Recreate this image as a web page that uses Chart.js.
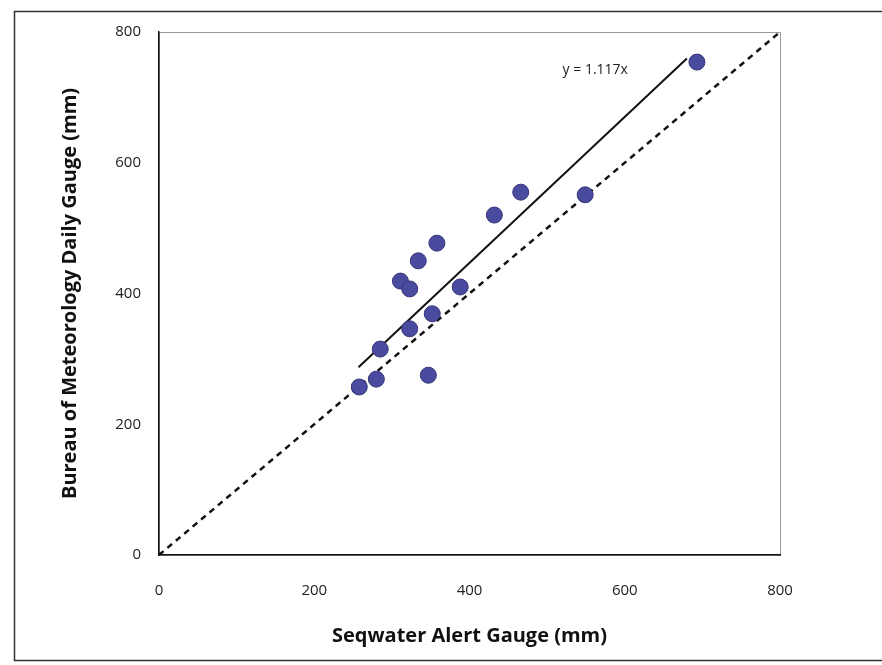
<!DOCTYPE html>
<html>
<head>
<meta charset="utf-8">
<script src="https://cdn.jsdelivr.net/npm/chart.js@4.4.0/dist/chart.umd.min.js"></script>
<style>
  html, body { margin: 0; padding: 0; background: #fff; }
  #wrap { width: 882px; height: 665px; }
</style>
</head>
<body>
<div id="wrap"><canvas id="chart" width="882" height="665"></canvas></div>
<script>
// Seqwater Alert Gauge (mm) vs Bureau of Meteorology Daily Gauge (mm)
const alertGauge = [258, 280, 285, 311, 323, 323, 334, 358, 352, 347, 388, 432, 466, 549, 693];
const bomGauge   = [257, 269, 315, 419, 407, 346, 450, 477, 369, 275, 410, 520, 555, 551, 754];
const axisTicks  = [0, 200, 400, 600, 800];
const slope = 1.117;
const trendRange = [257, 680];

const scatterPoints = alertGauge.map((x, i) => ({ x: x, y: bomGauge[i] }));
const trendPoints = trendRange.map(x => ({ x: x, y: slope * x }));
const oneToOne = [{ x: 0, y: 0 }, { x: 800, y: 800 }];

const FONT = "'Open Sans', 'Liberation Sans', sans-serif";

// outer frame + grey plot box + equation text
const decor = {
  id: 'decor',
  beforeDraw(chart) {
    const { ctx, chartArea: a } = chart;
    ctx.save();
    ctx.strokeStyle = '#333';
    ctx.lineWidth = 1.5;
    ctx.strokeRect(14.5, 11.5, 880, 649);
    ctx.strokeStyle = '#9a9a9a';
    ctx.lineWidth = 1;
    ctx.strokeRect(a.left + 0.5, a.top + 0.5, a.right - a.left, a.bottom - a.top);
    ctx.restore();
  },
  afterDatasetsDraw(chart) {
    const { ctx, scales } = chart;
    ctx.save();
    ctx.font = "14px " + FONT;
    ctx.fillStyle = '#222';
    ctx.textAlign = 'center';
    ctx.textBaseline = 'middle';
    ctx.fillText('y = 1.117x', scales.x.getPixelForValue(562), scales.y.getPixelForValue(742));
    ctx.restore();
  }
};

new Chart(document.getElementById('chart'), {
  type: 'scatter',
  data: {
    datasets: [
      {
        label: 'gauges',
        data: scatterPoints,
        pointRadius: 8,
        pointHoverRadius: 8,
        backgroundColor: '#4a4a9e',
        borderColor: '#34347a',
        borderWidth: 1
      },
      {
        label: 'trend',
        type: 'line',
        data: trendPoints,
        borderColor: '#111',
        borderWidth: 2,
        pointRadius: 0,
        fill: false
      },
      {
        label: '1:1',
        type: 'line',
        data: oneToOne,
        borderColor: '#111',
        borderWidth: 2.5,
        borderDash: [6, 5],
        pointRadius: 0,
        fill: false
      }
    ]
  },
  options: {
    responsive: false,
    animation: false,
    layout: { padding: { top: 32, right: 102, left: 0, bottom: 0 } },
    plugins: { legend: { display: false }, tooltip: { enabled: false } },
    scales: {
      x: {
        type: 'linear',
        min: 0, max: 800,
        afterFit(s) { s.height = 110; },
        afterBuildTicks(s) { s.ticks = axisTicks.map(v => ({ value: v })); },
        grid: { display: false, drawTicks: false },
        border: { color: '#111', width: 1.5 },
        ticks: { padding: 27, color: '#222', font: { family: FONT, size: 15 } },
        title: {
          display: true,
          text: 'Seqwater Alert Gauge (mm)',
          color: '#111',
          font: { family: FONT, size: 20, weight: 'bold' },
          padding: { top: 0, bottom: 17 }
        }
      },
      y: {
        type: 'linear',
        min: 0, max: 800,
        afterFit(s) { s.width = 159; },
        afterBuildTicks(s) { s.ticks = axisTicks.map(v => ({ value: v })); },
        grid: { display: false, drawTicks: false },
        border: { color: '#111', width: 1.5 },
        ticks: { padding: 18, color: '#222', font: { family: FONT, size: 15 } },
        title: {
          display: true,
          text: 'Bureau of Meteorology Daily Gauge (mm)',
          color: '#111',
          font: { family: FONT, size: 20, weight: 'bold' },
          padding: { top: 58, bottom: 0 }
        }
      }
    }
  },
  plugins: [decor]
});
</script>
</body>
</html>
